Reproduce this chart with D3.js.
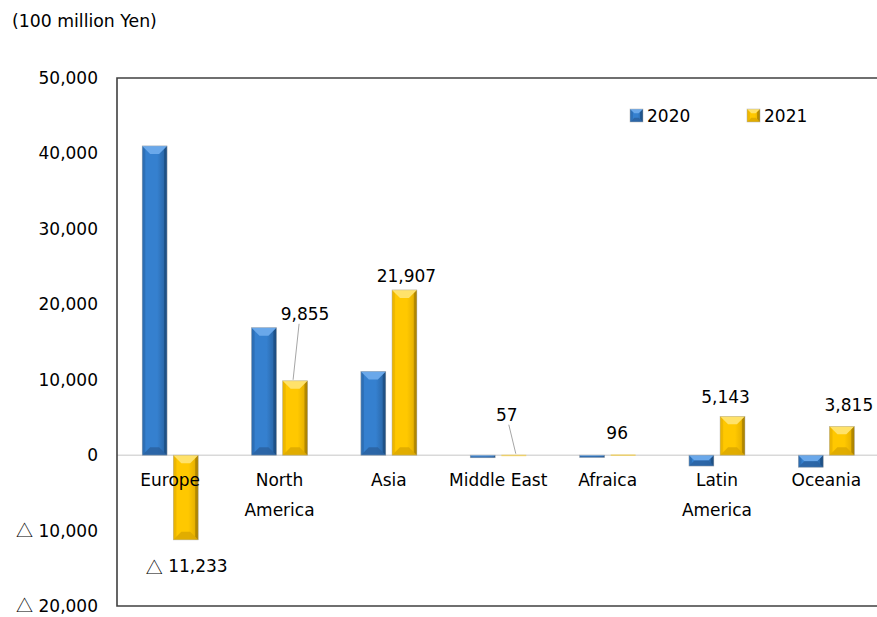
<!DOCTYPE html>
<html>
<head>
<meta charset="utf-8">
<script src="https://cdn.jsdelivr.net/npm/d3@7"></script>
<style>
  html, body { margin: 0; padding: 0; background: #fff; }
  svg { display: block; font-family: "DejaVu Sans", Verdana, sans-serif; }
</style>
</head>
<body>
<svg id="chart" width="877" height="617"></svg>
<script>
// Regional totals, 100 million yen
const categories = ["Europe", "North America", "Asia", "Middle East", "Afraica", "Latin America", "Oceania"];
const categoryLines = [["Europe"], ["North", "America"], ["Asia"], ["Middle East"], ["Afraica"], ["Latin", "America"], ["Oceania"]];
const series = ["2020", "2021"];
const values2020 = [41000, 16900, 11100, -350, -300, -1450, -1600];
const values2021 = [-11233, 9855, 21907, 57, 96, 5143, 3815];
const yTicks = [50000, 40000, 30000, 20000, 10000, 0, -10000, -20000];

// Label placement for the 2021 values (offset from the bar end, px) and optional leader lines
const labelPlacement = [
  { dx: 1, dy: 26, leader: false },
  { dx: 10, dy: -67, leader: true },
  { dx: 2, dy: -14, leader: false },
  { dx: -7, dy: -40, leader: true },
  { dx: -6, dy: -21, leader: false },
  { dx: -7, dy: -19, leader: false },
  { dx: 7, dy: -21, leader: false }
];

const palette = {
  "2020": { face: "#3580cf", light: "#6aa8ea", dark: "#1d4d80", mid: "#2c6cb0", bottom: "#2a62a0" },
  "2021": { face: "#ffc800", light: "#ffe26a", dark: "#a88000", mid: "#eab400", bottom: "#dca800" }
};

const svg = d3.select("#chart");
const plot = { left: 117, top: 78, bottom: 606, right: 877 };

const y = d3.scaleLinear().domain([-20000, 50000]).range([plot.bottom, plot.top]);
const x0 = d3.scaleBand().domain(categories).range([115.5, 881]);
const x1 = d3.scaleBand().domain(series)
  .range([x0.bandwidth() / 2 - 28, x0.bandwidth() / 2 + 28]).paddingInner(0.2);

const num = v => d3.format(",")(Math.abs(v));
// Negative values carry a full-width triangle prefix
function writeValue(sel, v) {
  sel.text(null);
  if (v < 0) {
    sel.append("tspan").attr("font-family", "Noto Sans CJK JP, DejaVu Sans, sans-serif").text("\u25B3");
    sel.append("tspan").text(" " + num(v));
  } else {
    sel.append("tspan").text(num(v));
  }
}

// Unit label
svg.append("text").attr("x", 12).attr("y", 27)
  .attr("font-size", 17.3).attr("fill", "#000").text("(100 million Yen)");

// Zero line
svg.append("line")
  .attr("x1", plot.left).attr("x2", plot.right)
  .attr("y1", y(0)).attr("y2", y(0))
  .attr("stroke", "#d9d9d9").attr("stroke-width", 1.5);

// Y axis labels
const yAxis = d3.axisLeft(y).tickValues(yTicks).tickSize(0).tickPadding(19).tickFormat(num);
const gy = svg.append("g").attr("transform", `translate(${plot.left},0)`).call(yAxis);
gy.select(".domain").remove();
gy.selectAll("text").attr("font-size", 17).attr("fill", "#000")
  .attr("font-family", "DejaVu Sans, Verdana, sans-serif")
  .each(function (v) { writeValue(d3.select(this), v); });

// Horizontal gradients for the bar faces
const defs = svg.append("defs");
series.forEach(s => {
  const p = palette[s];
  const g = defs.append("linearGradient").attr("id", "face" + s)
    .attr("x1", "0").attr("x2", "1").attr("y1", "0").attr("y2", "0");
  g.append("stop").attr("offset", "0").attr("stop-color", p.mid);
  g.append("stop").attr("offset", "0.15").attr("stop-color", p.face);
  g.append("stop").attr("offset", "0.6").attr("stop-color", p.face);
  g.append("stop").attr("offset", "0.85").attr("stop-color", p.mid);
  g.append("stop").attr("offset", "1").attr("stop-color", p.dark);
});

// Bevelled bar: face plus top/bottom chevrons and thin side edges
function bevelBar(g, bx, by, w, h, s) {
  const p = palette[s];
  const b = Math.min(8, w / 3, h / 2);
  const e = Math.min(3, b);
  const poly = pts => pts.map(q => q.join(",")).join(" ");
  const face = g.append("rect").attr("x", bx).attr("y", by).attr("width", w).attr("height", h)
    .attr("fill", `url(#face${s})`);
  if (b < 1) {
    face.attr("fill", p.face).attr("opacity", 0.5);
    return;
  }
  g.append("polygon").attr("points", poly([[bx, by], [bx + e, by + e], [bx + e, by + h - e], [bx, by + h]]))
    .attr("fill", p.mid).attr("opacity", 0.7);
  g.append("polygon").attr("points", poly([[bx + w, by], [bx + w - e, by + e], [bx + w - e, by + h - e], [bx + w, by + h]]))
    .attr("fill", p.dark).attr("opacity", 0.7);
  g.append("polygon").attr("points", poly([[bx, by], [bx + w, by], [bx + w - b, by + b], [bx + b, by + b]]))
    .attr("fill", p.light);
  g.append("polygon").attr("points", poly([[bx, by + h], [bx + w, by + h], [bx + w - b, by + h - b], [bx + b, by + h - b]]))
    .attr("fill", p.bottom).attr("opacity", 0.85);
  g.append("rect").attr("x", bx).attr("y", by).attr("width", w).attr("height", h)
    .attr("fill", "none").attr("stroke", "#b0b0b0").attr("stroke-width", 0.6).attr("opacity", 0.8);
}

const rows = categories.map((c, i) => ({ c, i, "2020": values2020[i], "2021": values2021[i] }));

const groups = svg.append("g").selectAll("g").data(rows).join("g")
  .attr("transform", d => `translate(${x0(d.c)},0)`);

groups.each(function (d) {
  const g = d3.select(this);
  series.forEach(s => {
    const v = d[s];
    const top = y(Math.max(0, v));
    const h = Math.max(Math.abs(y(v) - y(0)), 1.5);
    bevelBar(g.append("g"), x1(s), top, x1.bandwidth(), h, s);
  });
});

// Value labels for 2021
rows.forEach(d => {
  const v = d["2021"];
  const pl = labelPlacement[d.i];
  const cx = x0(d.c) + x1("2021") + x1.bandwidth() / 2;
  const end = y(v);
  const lx = cx + pl.dx, ly = end + pl.dy;
  if (pl.leader) {
    svg.append("line")
      .attr("x1", lx - 6 + (pl.dx > 0 ? 0 : 8)).attr("y1", ly + 10)
      .attr("x2", cx - (pl.dx > 0 ? 2 : -2)).attr("y2", end - 1)
      .attr("stroke", "#a6a6a6").attr("stroke-width", 1);
  }
  const t = svg.append("text").attr("x", lx).attr("y", ly)
    .attr("text-anchor", "middle").attr("dominant-baseline", "central")
    .attr("font-size", 17).attr("fill", "#000");
  writeValue(t, v);
});

// Category labels
groups.each(function (d) {
  const t = d3.select(this).append("text")
    .attr("x", x0.bandwidth() / 2).attr("y", y(0) + 31)
    .attr("text-anchor", "middle").attr("font-size", 17).attr("fill", "#000");
  categoryLines[d.i].forEach((line, k) => {
    t.append("tspan").attr("x", x0.bandwidth() / 2).attr("dy", k === 0 ? 0 : 30).text(line);
  });
});

// Frame
svg.append("path")
  .attr("d", `M${plot.right},${plot.top}H${plot.left}V${plot.bottom}H${plot.right}`)
  .attr("fill", "none").attr("stroke", "#404040").attr("stroke-width", 1.6);

// Legend
const legend = svg.append("g");
const legendX = [630, 747];
series.forEach((s, i) => {
  const lg = legend.append("g");
  bevelBar(lg, legendX[i], 109, 13, 13, s);
  lg.append("text").attr("x", legendX[i] + 17).attr("y", 115.5)
    .attr("dominant-baseline", "central").attr("font-size", 17).attr("fill", "#000").text(s);
});
</script>
</body>
</html>
